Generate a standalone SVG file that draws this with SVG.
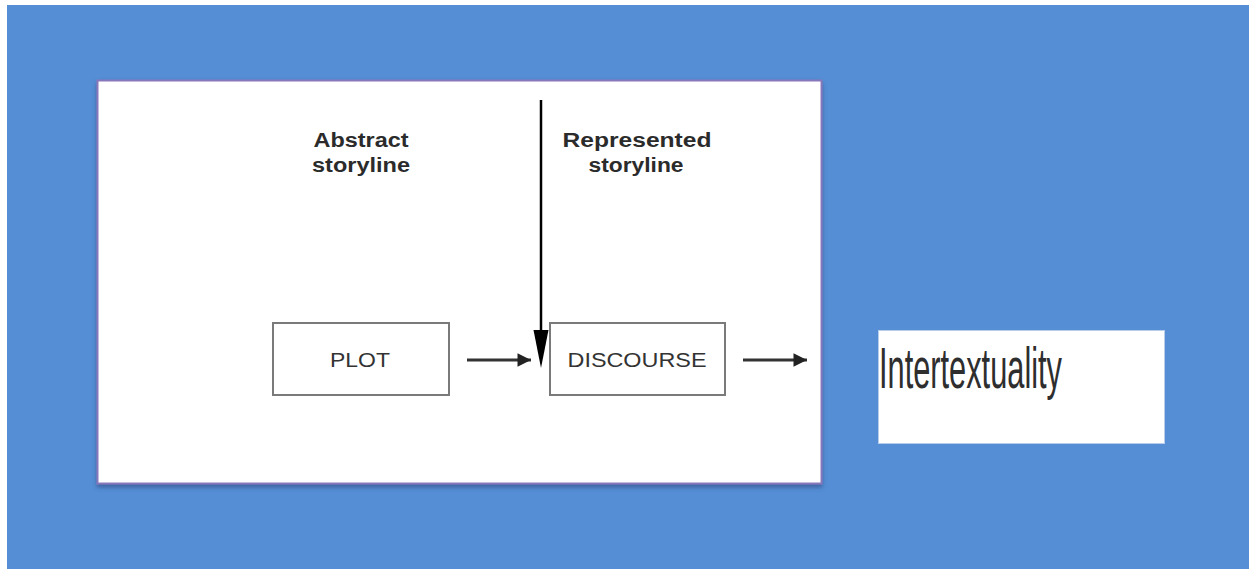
<svg xmlns="http://www.w3.org/2000/svg" width="1249" height="569" viewBox="0 0 1249 569">
<style>
.head{font-family:"Liberation Sans",Arial,sans-serif;font-weight:bold;font-size:20px;fill:#2b2b2b;text-anchor:middle}
.lbl{font-family:"Liberation Sans",Arial,sans-serif;font-size:20px;fill:#333;text-anchor:middle}
.box{fill:#fff;stroke:#7a7a7a;stroke-width:2}
.conn{stroke:#333;stroke-width:3;fill:none}
</style>
<defs>
<marker id="ah" viewBox="0 0 10 10" refX="10" refY="5" markerWidth="5.5" markerHeight="4.5" markerUnits="strokeWidth" orient="auto">
<path d="M0,0 L10,5 L0,10 z" fill="#222"/>
</marker>
<filter id="sh" x="-5%" y="-5%" width="110%" height="115%">
<feDropShadow dx="0" dy="3" stdDeviation="2" flood-color="#2a4a80" flood-opacity="0.6"/>
</filter>
</defs>
<rect x="0" y="0" width="1249" height="569" fill="#fff"/>
<rect x="7" y="5" width="1242" height="564" fill="#558ed5"/>
<g id="panel">
<rect x="97.5" y="80.5" width="724" height="403" fill="#fff" stroke="#8878bb" stroke-width="2" filter="url(#sh)"/>
</g>
<g id="abstract">
<text class="head" x="361" y="147" textLength="95" lengthAdjust="spacingAndGlyphs">Abstract</text>
<text class="head" x="361" y="172" textLength="98" lengthAdjust="spacingAndGlyphs">storyline</text>
</g>
<g id="represented">
<text class="head" x="637" y="147" textLength="149" lengthAdjust="spacingAndGlyphs">Represented</text>
<text class="head" x="636" y="172" textLength="95" lengthAdjust="spacingAndGlyphs">storyline</text>
</g>
<g id="plot">
<rect class="box" x="273" y="323" width="176" height="72"/>
<text class="lbl" x="360" y="367" textLength="60" lengthAdjust="spacingAndGlyphs">PLOT</text>
</g>
<g id="discourse">
<rect class="box" x="550" y="323" width="175" height="72"/>
<text class="lbl" x="637" y="367" textLength="139" lengthAdjust="spacingAndGlyphs">DISCOURSE</text>
</g>
<g id="intertextuality">
<rect x="878.5" y="330.5" width="286" height="113" fill="#fff" stroke="#b8cdea" stroke-width="1"/>
<text x="879" y="388" font-family="Liberation Sans,Arial,sans-serif" font-size="58" fill="#2e2e2e" textLength="183" lengthAdjust="spacingAndGlyphs">Intertextuality</text>
</g>
<g id="connectors">
<line class="conn" x1="467" y1="360" x2="531" y2="360" marker-end="url(#ah)"/>
<line class="conn" x1="743" y1="360" x2="807" y2="360" marker-end="url(#ah)"/>
<line x1="541" y1="100" x2="541" y2="335" stroke="#000" stroke-width="2.5"/>
<path d="M533.5,330 L548.5,330 L541,368 z" fill="#000"/>
</g>
</svg>
